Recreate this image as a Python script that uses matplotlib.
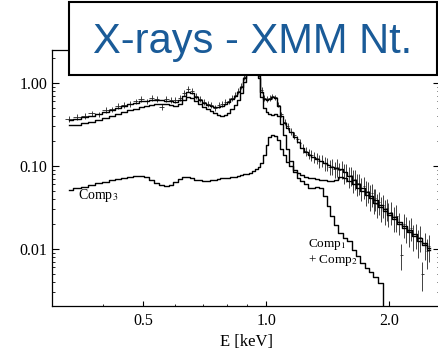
import numpy as np
import matplotlib
matplotlib.use("Agg")
import matplotlib.pyplot as plt
from matplotlib.patches import Rectangle
from matplotlib.ticker import LogLocator, NullFormatter, FixedLocator

plt.rcParams['font.family'] = ['Liberation Serif', 'DejaVu Serif']
plt.rcParams['mathtext.fontset'] = 'stix'

# model energy bins [keV]
energy = [0.33, 0.345, 0.36, 0.375, 0.39, 0.405, 0.42, 0.435, 0.45, 0.465,
          0.48, 0.495, 0.51, 0.525, 0.54, 0.555, 0.57, 0.585, 0.60, 0.615,
          0.63, 0.645, 0.66, 0.675, 0.69, 0.705, 0.72, 0.735, 0.75, 0.765,
          0.78, 0.795, 0.81, 0.825, 0.84, 0.855, 0.87, 0.885, 0.90, 0.915,
          0.93, 0.945, 0.96, 0.975, 0.99, 1.005, 1.02, 1.035, 1.05, 1.07,
          1.09, 1.11, 1.13, 1.15, 1.175, 1.20, 1.225, 1.25, 1.275, 1.30,
          1.33, 1.36, 1.39, 1.42, 1.45, 1.48, 1.52, 1.56, 1.60, 1.64,
          1.68, 1.72, 1.76, 1.80, 1.85, 1.90, 1.95, 2.00, 2.06, 2.12,
          2.18, 2.24, 2.30, 2.37, 2.44, 2.51]

# total model
total = [0.358, 0.369, 0.389, 0.400, 0.423, 0.447, 0.473, 0.500, 0.528, 0.559,
         0.582, 0.607, 0.615, 0.624, 0.624, 0.624, 0.615, 0.607, 0.599, 0.624,
         0.697, 0.779, 0.758, 0.678, 0.624, 0.574, 0.543, 0.528, 0.514, 0.514,
         0.528, 0.559, 0.590, 0.641, 0.697, 0.779, 0.895, 1.15, 1.65, 2.17,
         2.36, 2.0, 1.25, 0.779, 0.641, 0.624, 0.641, 0.678, 0.660, 0.528,
         0.400, 0.330, 0.287, 0.257, 0.224, 0.195, 0.165, 0.148, 0.136, 0.128,
         0.121, 0.115, 0.109, 0.103, 0.0975, 0.0946, 0.092, 0.0847, 0.0758, 0.0678,
         0.0607, 0.0543, 0.0486, 0.0435, 0.0389, 0.0339, 0.0305, 0.0272, 0.0243, 0.0213,
         0.0190, 0.0169, 0.0152, 0.0134, 0.0118, 0.0103]

# Comp1 + Comp2 (first 78 bins)
comp12 = [0.308, 0.316, 0.330, 0.339, 0.358, 0.379, 0.400, 0.423, 0.447, 0.473,
          0.493, 0.514, 0.528, 0.543, 0.559, 0.566, 0.559, 0.543, 0.536, 0.559,
          0.624, 0.678, 0.660, 0.607, 0.559, 0.514, 0.486, 0.460, 0.435, 0.412,
          0.400, 0.412, 0.435, 0.486, 0.543, 0.624, 0.758, 1.03, 1.52, 2.06,
          2.23, 1.89, 1.15, 0.678, 0.500, 0.447, 0.423, 0.412, 0.423, 0.400,
          0.320, 0.236, 0.160, 0.115, 0.0847, 0.0717, 0.066, 0.0607, 0.0543, 0.0543,
          0.0558, 0.0543, 0.0435, 0.0329, 0.0250, 0.0195, 0.0156, 0.0137, 0.0124, 0.0097,
          0.00826, 0.00678, 0.00590, 0.00527, 0.00456, 0.00385, 0.0017, 0.001]

# Comp3
comp3 = [0.0514, 0.0543, 0.0566, 0.059, 0.0617, 0.0642, 0.067, 0.070, 0.0725, 0.0745,
         0.0767, 0.0767, 0.0737, 0.0678, 0.0624, 0.059, 0.0574, 0.059, 0.0642, 0.070,
         0.0737, 0.0745, 0.0725, 0.0685, 0.067, 0.066, 0.066, 0.0678, 0.0685, 0.070,
         0.071, 0.072, 0.0725, 0.0737, 0.0745, 0.0758, 0.0779, 0.080, 0.081, 0.0835,
         0.087, 0.091, 0.097, 0.109, 0.136, 0.179, 0.224, 0.236, 0.230, 0.206,
         0.160, 0.136, 0.112, 0.100, 0.0895, 0.0835, 0.0779, 0.0745, 0.0725, 0.071,
         0.070, 0.0678, 0.067, 0.066, 0.066, 0.0678, 0.074, 0.072, 0.066, 0.060,
         0.0543, 0.050, 0.0446, 0.0411, 0.0358, 0.0320, 0.0288, 0.0258, 0.0230, 0.0200,
         0.0178, 0.0159, 0.0142, 0.0125, 0.0112, 0.0097]

# observed spectrum
data_e = [0.33, 0.345, 0.36, 0.375, 0.39, 0.405, 0.42, 0.435, 0.45, 0.465,
          0.48, 0.495, 0.51, 0.525, 0.54, 0.555, 0.57, 0.585, 0.60, 0.615,
          0.63, 0.645, 0.66, 0.675, 0.69, 0.705, 0.72, 0.735, 0.75, 0.765,
          0.78, 0.795, 0.81, 0.825, 0.84, 0.855, 0.87, 0.885, 0.90, 0.915,
          0.93, 0.945, 0.96, 0.975, 0.99, 1.005, 1.02, 1.035, 1.05,
          1.07, 1.09, 1.11, 1.13, 1.15, 1.17, 1.19, 1.21, 1.23, 1.25,
          1.27, 1.29, 1.31, 1.33, 1.35, 1.37, 1.39, 1.41, 1.43, 1.45,
          1.47, 1.49, 1.51, 1.53, 1.55, 1.57, 1.59, 1.61, 1.63, 1.65,
          1.67, 1.69, 1.71, 1.73, 1.75, 1.77, 1.79, 1.81, 1.83, 1.85,
          1.87, 1.89, 1.91, 1.93, 1.95, 1.97, 1.99,
          2.02, 2.05, 2.08, 2.11, 2.14, 2.17, 2.20, 2.23, 2.26, 2.29,
          2.32, 2.35, 2.38, 2.41, 2.44, 2.47, 2.50]

data = [0.37, 0.39, 0.40, 0.43, 0.42, 0.47, 0.48, 0.53, 0.54, 0.56,
        0.60, 0.64, 0.60, 0.66, 0.65, 0.52, 0.64, 0.63, 0.62, 0.66,
        0.76, 0.85, 0.80, 0.70, 0.64, 0.59, 0.56, 0.55, 0.50, 0.55,
        0.56, 0.59, 0.61, 0.66, 0.72, 0.80, 0.93, 1.18, 1.7, 2.2,
        2.4, 2.0, 1.3, 0.82, 0.66, 0.64, 0.66, 0.69, 0.67,
        0.55, 0.42, 0.34, 0.30, 0.26, 0.235, 0.21, 0.19, 0.165, 0.152,
        0.14, 0.135, 0.128, 0.126, 0.115, 0.116, 0.108, 0.106, 0.098, 0.101,
        0.092, 0.097, 0.090, 0.093, 0.084, 0.085, 0.076, 0.078, 0.068, 0.070,
        0.062, 0.063, 0.055, 0.057, 0.049, 0.050, 0.044, 0.047, 0.040, 0.041,
        0.035, 0.037, 0.032, 0.034, 0.029, 0.031, 0.027,
        0.028, 0.024, 0.025, 0.021, 0.0085, 0.020, 0.018, 0.0165, 0.018, 0.0145,
        0.015, 0.0125, 0.014, 0.0050, 0.0115, 0.0095, 0.0110]

# relative 1-sigma errors
rel_err = [0.08] * 49 + [
    0.06, 0.07, 0.08, 0.09, 0.10, 0.10, 0.11, 0.12, 0.13, 0.13,
    0.14, 0.15, 0.16, 0.15, 0.18, 0.17, 0.19, 0.18, 0.20, 0.22,
    0.21, 0.24, 0.22, 0.25, 0.27, 0.24, 0.28, 0.26, 0.30, 0.27,
    0.30, 0.28, 0.32, 0.30, 0.33, 0.29, 0.34, 0.31, 0.33, 0.30,
    0.32, 0.30, 0.34, 0.31, 0.33, 0.30, 0.32,
    0.30, 0.33, 0.35, 0.30, 0.35, 0.32, 0.34, 0.36, 0.30, 0.35,
    0.33, 0.37, 0.34, 0.38, 0.35, 0.40, 0.36]

E = np.array(data_e)
edges = np.sqrt(E[1:] * E[:-1])
lo = E - np.concatenate([[E[0] - (edges[0] - E[0])], edges])
hi = np.concatenate([edges, [E[-1] + (E[-1] - edges[-1])]]) - E
yerr = np.array(rel_err) * np.array(data)

fig = plt.figure(figsize=(4.39, 3.52), dpi=100)
ax = fig.add_axes([52 / 439, 1 - 306 / 352, 388 / 439, 256 / 352])

ax.errorbar(data_e, data, xerr=[lo, hi], yerr=yerr, fmt='none',
            ecolor='#222222', elinewidth=0.6, capsize=0)
ax.plot(energy, total, drawstyle='steps-mid', color='black', lw=1.0)
ax.plot(energy[:len(comp12)], comp12, drawstyle='steps-mid', color='black', lw=1.0)
ax.plot(energy, comp3, drawstyle='steps-mid', color='black', lw=1.0)

ax.set_xscale('log')
ax.set_yscale('log')
ax.set_xlim(0.2996, 2.66)
ax.set_ylim(0.00206, 2.5)

ax.set_xticks([0.5, 1.0, 2.0])
ax.set_xticklabels(['0.5', '1.0', '2.0'])
ax.xaxis.set_minor_locator(FixedLocator([0.4, 0.6, 0.7, 0.8, 0.9]))
ax.xaxis.set_minor_formatter(NullFormatter())
ax.set_yticks([0.01, 0.1, 1.0])
ax.set_yticklabels(['0.01', '0.10', '1.00'])
ax.yaxis.set_minor_locator(LogLocator(base=10, subs=np.arange(2, 10)))
ax.yaxis.set_minor_formatter(NullFormatter())

ax.tick_params(which='both', direction='in', top=False, right=True, labelsize=11.5)
ax.tick_params(axis='x', which='major', length=3.6, pad=5)
ax.tick_params(axis='x', which='minor', length=1.8)
ax.tick_params(axis='y', which='major', length=5, pad=3.5)
ax.tick_params(axis='y', which='minor', length=2.5)
ax.spines['right'].set_visible(False)
for s in ['left', 'bottom', 'top']:
    ax.spines[s].set_linewidth(0.9)

ax.set_xlabel('E [keV]', fontsize=12, labelpad=4)

ax.text(0.347, 0.040, r'Comp$_3$', fontsize=10, ha='left', va='baseline')
ax.text(1.265, 0.0105, r'Comp$_1$', fontsize=9.5, ha='left', va='baseline')
ax.text(1.265, 0.0068, r'+ Comp$_2$', fontsize=9.5, ha='left', va='baseline')

box = Rectangle((69 / 439, 1 - 75 / 352), 368 / 439, 73 / 352, transform=fig.transFigure,
                facecolor='white', edgecolor='black', lw=1.5, zorder=10)
fig.patches.append(box)
fig.text(0.575, 1 - 53 / 352, 'X-rays - XMM Nt.', ha='center', va='baseline',
         fontsize=30, color='#1a5b98', family='Liberation Sans', zorder=11)

fig.savefig('out.png', dpi=100)
